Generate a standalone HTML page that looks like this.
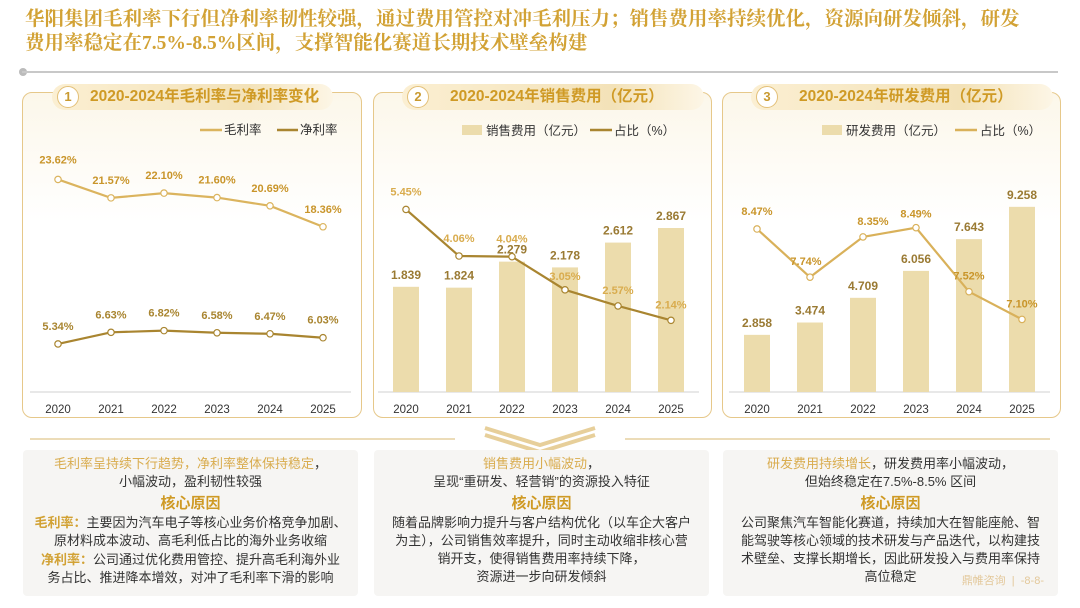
<!DOCTYPE html>
<html><head><meta charset="utf-8">
<style>
body{margin:0;width:1080px;height:608px;background:#fff;position:relative;overflow:hidden;font-family:"Liberation Sans","Noto Sans CJK SC",sans-serif;}
.title{position:absolute;left:25px;top:8px;width:1050px;white-space:nowrap;font-family:"Liberation Serif","Noto Serif CJK SC",serif;font-weight:bold;font-size:19.5px;line-height:24px;color:#d2a235;}
.rule{position:absolute;left:22px;top:71px;width:1036px;height:2px;background:#c8c8c8}
.dot{position:absolute;left:19px;top:68px;width:8px;height:8px;border-radius:50%;background:#bbb}
.panel{position:absolute;top:92px;height:324px;border:1.5px solid #e6c88a;border-radius:10px;background:linear-gradient(#fcf7ea,#fff 40%)}
.hdr{position:absolute;top:84px;height:26px;border-radius:13px;background:linear-gradient(90deg,#fbefd2,#f3e2b8 70%,#fdf6e6);color:#cf9a25;font-weight:bold;font-size:15.5px;line-height:26px;padding-left:38px;padding-right:14px}
.num{position:absolute;left:5px;top:2px;width:20px;height:20px;border-radius:50%;border:1.5px solid #e3c078;background:#fff;color:#c99a30;font-size:13px;line-height:20px;text-align:center}
svg{position:absolute;left:0;top:0}
.box{position:absolute;top:450px;height:146px;background:#f6f5f3;border-radius:4px;text-align:center;font-size:13px;line-height:18px;color:#333}
.hl{color:#d9ac4e}
.kh{color:#cf9a25;font-weight:bold;font-size:15px;line-height:21px;margin-top:2px}
.gold{color:#d2a235}
</style></head><body>
<div class="title">华阳集团毛利率下行但净利率韧性较强，通过费用管控对冲毛利压力；销售费用率持续优化，资源向研发倾斜，研发<br>费用率稳定在7.5%-8.5%区间，支撑智能化赛道长期技术壁垒构建</div>
<div class="dot"></div>
<div class="rule"></div>

<div class="panel" style="left:22px;width:338px"></div>
<div class="panel" style="left:373px;width:337px"></div>
<div class="panel" style="left:722px;width:337px"></div>
<div class="hdr" style="left:52px"><span class="num">1</span>2020-2024年毛利率与净利率变化</div>
<div class="hdr" style="left:402px;width:240px;padding-left:48px"><span class="num">2</span>2020-2024年销售费用（亿元）</div>
<div class="hdr" style="left:751px;width:240px;padding-left:48px"><span class="num">3</span>2020-2024年研发费用（亿元）</div>

<svg id="chart" width="1080" height="608"></svg>

<div class="box" style="left:23px;width:335px">
<div style="margin-top:5px"><span class="hl">毛利率呈持续下行趋势，净利率整体保持稳定</span>，<br>小幅波动，盈利韧性较强</div>
<div class="kh">核心原因</div>
<div><span class="gold" style="font-weight:bold">毛利率：</span>主要因为汽车电子等核心业务价格竞争加剧、<br>原材料成本波动、高毛利低占比的海外业务收缩</div>
<div style="margin-top:1px"><span class="gold" style="font-weight:bold">净利率：</span>公司通过优化费用管控、提升高毛利海外业<br>务占比、推进降本增效，对冲了毛利率下滑的影响</div>
</div>
<div class="box" style="left:374px;width:335px">
<div style="margin-top:5px"><span class="hl">销售费用小幅波动</span>，<br>呈现“重研发、轻营销”的资源投入特征</div>
<div class="kh">核心原因</div>
<div>随着品牌影响力提升与客户结构优化（以车企大客户<br>为主），公司销售效率提升，同时主动收缩非核心营<br>销开支，使得销售费用率持续下降，<br>资源进一步向研发倾斜</div>
</div>
<div class="box" style="left:723px;width:335px">
<div style="margin-top:5px"><span class="hl">研发费用持续增长</span>，研发费用率小幅波动，<br>但始终稳定在7.5%-8.5% 区间</div>
<div class="kh">核心原因</div>
<div>公司聚焦汽车智能化赛道，持续加大在智能座舱、智<br>能驾驶等核心领域的技术研发与产品迭代，以构建技<br>术壁垒、支撑长期增长，因此研发投入与费用率保持<br>高位稳定</div>
<div style="position:absolute;right:14px;bottom:6px;color:#e3c89a;font-size:11px">鼎帷咨询 &nbsp;| &nbsp;-8-8-</div>
</div>

<script>
const years=["2020","2021","2022","2023","2024","2025"];
const grossMargin=[23.62,21.57,22.10,21.60,20.69,18.36];
const netMargin=[5.34,6.63,6.82,6.58,6.47,6.03];
const salesExp=[1.839,1.824,2.279,2.178,2.612,2.867];
const salesRatio=[5.45,4.06,4.04,3.05,2.57,2.14];
const rdExp=[2.858,3.474,4.709,6.056,7.643,9.258];
const rdRatio=[8.47,7.74,8.35,8.49,7.52,7.10];

const svg=document.getElementById('chart');
const NS='http://www.w3.org/2000/svg';
function mk(tag,attrs,name){const e=document.createElementNS(NS,tag);for(const k in attrs)e.setAttribute(k,attrs[k]);


svg.appendChild(e);return e;}
function txt(x,y,s,fill,size,bold,name,anchor){const t=mk('text',{x:x,y:y,fill:fill,'font-size':size,'font-weight':bold?'bold':'normal','text-anchor':anchor||'middle','font-family':'"Liberation Sans","Noto Sans CJK SC",sans-serif'},name);t.textContent=s;return t;}
const base=392;
function xAt(x0,i){return x0+i*53;}
function axis(x0,name){mk('line',{x1:x0-28,x2:x0+5*53+28,y1:base,y2:base,stroke:'#d0d0d0','stroke-width':1},name+'-x-axis');
years.forEach((y,i)=>txt(xAt(x0,i),413,y,'#333',11.5,false,name+'-x-tick'));}
function line(x0,vals,yf,color,name,labels,lblColor,dy){
 const pts=vals.map((v,i)=>xAt(x0,i)+','+yf(v)).join(' ');
 mk('polyline',{points:pts,fill:'none',stroke:color,'stroke-width':2.2},name+'-line');
 vals.forEach((v,i)=>{mk('circle',{cx:xAt(x0,i),cy:yf(v),r:3.2,fill:'#fff',stroke:color,'stroke-width':1.2},name+'-point');
 if(labels)txt(xAt(x0,i)+(labels.dx?labels.dx[i]:0),yf(v)+(dy?dy[i]:-12),v.toFixed(2)+'%',lblColor,11,true,name+'-label');});}
function bars(x0,vals,yf,name){vals.forEach((v,i)=>{mk('rect',{x:xAt(x0,i)-13,y:yf(v),width:26,height:base-yf(v),fill:'#ecdcac'},name+'-bar');
 txt(xAt(x0,i),yf(v)-8,v.toFixed(3),'#9a7a33',12,true,name+'-value');});}

const y1=v=>base-v*9;
axis(58,'chart1');
line(58,grossMargin,y1,'#dbb45e','gross-margin',{dx:[0,0,0,0,0,0]},'#c9952a',[-16,-14,-14,-14,-14,-14]);
line(58,netMargin,y1,'#a98530','net-margin',{},'#a98530',[-14,-14,-14,-14,-14,-14]);
mk('line',{x1:200,x2:222,y1:130,y2:130,stroke:'#dbb45e','stroke-width':2.5},'legend-gross-swatch');
txt(224,134,'毛利率','#333',12.5,false,'legend-gross','start');
mk('line',{x1:277,x2:298,y1:130,y2:130,stroke:'#a98530','stroke-width':2.5},'legend-net-swatch');
txt(300,134,'净利率','#333',12.5,false,'legend-net','start');

const y2b=v=>base-v*57.2;
const y2l=v=>base-v*33.5;
axis(406,'chart2');
bars(406,salesExp,y2b,'sales');
line(406,salesRatio,y2l,'#a98530','sales-ratio',{},'#d9ac4e',[-14,-14,-14,-10,-12,-12]);
mk('rect',{x:462,y:125,width:20,height:10,fill:'#ecdcac'},'legend-sales-swatch');
txt(486,135,'销售费用（亿元）','#333',12.5,false,'legend-sales','start');
mk('line',{x1:590,x2:612,y1:130,y2:130,stroke:'#a98530','stroke-width':2.5},'legend-sales-ratio-swatch');
txt(614,135,'占比（%）','#333',12.5,false,'legend-sales-ratio','start');

const y3b=v=>base-v*20;
const y3l=v=>base-(v-6)*66;
axis(757,'chart3');
bars(757,rdExp,y3b,'rd');
line(757,rdRatio,y3l,'#d9b15a','rd-ratio',{dx:[0,-4,10,0,0,0]},'#c9952a',[-14,-12,-12,-10,-12,-12]);
mk('rect',{x:822,y:125,width:20,height:10,fill:'#ecdcac'},'legend-rd-swatch');
txt(846,135,'研发费用（亿元）','#333',12.5,false,'legend-rd','start');
mk('line',{x1:955,x2:977,y1:130,y2:130,stroke:'#d9b15a','stroke-width':2.5},'legend-rd-ratio-swatch');
txt(980,135,'占比（%）','#333',12.5,false,'legend-rd-ratio','start');

mk('line',{x1:30,x2:455,y1:439,y2:439,stroke:'#ecdcb8','stroke-width':2},'divider-left');
mk('line',{x1:625,x2:1050,y1:439,y2:439,stroke:'#ecdcb8','stroke-width':2},'divider-right');
[0,7].forEach(d=>mk('polyline',{points:(485)+','+(428+d)+' 540,'+(445+d)+' 595,'+(428+d),fill:'none',stroke:'#e7cf9a','stroke-width':4},'chevron'));
</script>
</body></html>
